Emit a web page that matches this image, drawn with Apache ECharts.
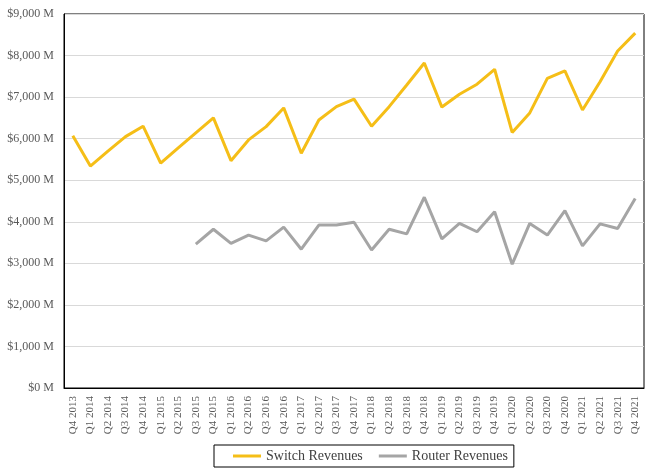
<!DOCTYPE html>
<html>
<head>
<meta charset="utf-8">
<script src="https://cdn.jsdelivr.net/npm/echarts@6/dist/echarts.min.js"></script>
<style>html,body{margin:0;padding:0;background:#fff}#c{width:651px;height:476px}</style>
</head>
<body>
<div id="c"></div>
<script>
const categories = ["Q4 2013","Q1 2014","Q2 2014","Q3 2014","Q4 2014","Q1 2015","Q2 2015","Q3 2015","Q4 2015","Q1 2016","Q2 2016","Q3 2016","Q4 2016","Q1 2017","Q2 2017","Q3 2017","Q4 2017","Q1 2018","Q2 2018","Q3 2018","Q4 2018","Q1 2019","Q2 2019","Q3 2019","Q4 2019","Q1 2020","Q2 2020","Q3 2020","Q4 2020","Q1 2021","Q2 2021","Q3 2021","Q4 2021"];
const switchRevenues = [6070,5340,5700,6050,6300,5410,5780,6140,6500,5470,5970,6290,6740,5650,6450,6770,6950,6300,6770,7290,7820,6760,7070,7310,7670,6150,6620,7450,7630,6690,7370,8110,8540];
const routerRevenues = [null,null,null,null,null,null,null,3460,3820,3480,3680,3540,3870,3340,3920,3920,3990,3320,3820,3710,4590,3590,3960,3760,4240,2980,3960,3680,4270,3420,3950,3840,4560];
const yTicks = {min:0, max:9000, interval:1000};

const font = "Liberation Serif";
const chart = echarts.init(document.getElementById('c'));
chart.setOption({
  animation:false,
  backgroundColor:'#fff',
  grid:{left:64,right:7,top:14,bottom:88,show:true,borderColor:'#000',borderWidth:1,containLabel:false},
  xAxis:{type:'category',data:categories,boundaryGap:true,
    axisLine:{lineStyle:{color:'#000',width:1}},axisTick:{show:false},
    axisLabel:{rotate:90,interval:0,fontFamily:font,fontSize:11,color:'#595959',margin:8}},
  yAxis:{type:'value',min:yTicks.min,max:yTicks.max,interval:yTicks.interval,
    axisLine:{show:true,lineStyle:{color:'#000',width:1}},axisTick:{show:false},
    splitLine:{lineStyle:{color:'#D9D9D9',width:1}},
    axisLabel:{fontFamily:font,fontSize:12,color:'#595959',margin:10,
      formatter:v=>'$'+v.toLocaleString('en-US')+' M'}},
  legend:{left:214,top:445,itemWidth:28,itemHeight:3,itemGap:16,icon:'rect',
    borderColor:'#000',borderWidth:1,padding:[4,6,4,19],
    textStyle:{fontFamily:font,fontSize:14,color:'#404040'},
    data:['Switch Revenues','Router Revenues']},
  series:[
    {name:'Switch Revenues',type:'line',data:switchRevenues,symbol:'none',
      lineStyle:{color:'#F5BE17',width:3},itemStyle:{color:'#F5BE17'}},
    {name:'Router Revenues',type:'line',data:routerRevenues,symbol:'none',connectNulls:false,
      lineStyle:{color:'#A5A5A5',width:3},itemStyle:{color:'#A5A5A5'}}
  ]
});
</script>
</body>
</html>
